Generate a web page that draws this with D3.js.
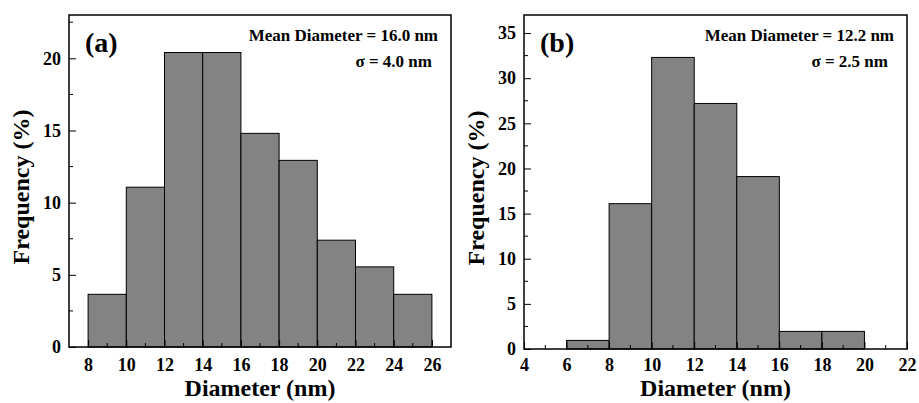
<!DOCTYPE html>
<html>
<head>
<meta charset="utf-8">
<script src="https://cdn.jsdelivr.net/npm/d3@7"></script>
<style>
  html, body { margin: 0; padding: 0; background: #fff; }
  svg { display: block; }
  svg text { font-family: "Times New Roman", Times, "Liberation Serif", serif; font-weight: bold; fill: #000; }
</style>
</head>
<body>
<svg id="chart" width="919" height="403"></svg>
<script>
// Panel (a)
const edgesA = [8, 10, 12, 14, 16, 18, 20, 22, 24, 26];
const freqA = [3.65, 11.07, 20.4, 20.4, 14.8, 12.93, 7.4, 5.55, 3.65];
const xTicksA = [8, 10, 12, 14, 16, 18, 20, 22, 24, 26];
const yTicksA = [0, 5, 10, 15, 20];
const statsA = ["Mean Diameter = 16.0 nm", "σ = 4.0 nm"];

// Panel (b)
const edgesB = [6, 8, 10, 12, 14, 16, 18, 20];
const freqB = [0.95, 16.1, 32.3, 27.2, 19.1, 1.95, 1.95];
const xTicksB = [4, 6, 8, 10, 12, 14, 16, 18, 20, 22];
const yTicksB = [0, 5, 10, 15, 20, 25, 30, 35];
const statsB = ["Mean Diameter = 12.2 nm", "σ = 2.5 nm"];

const svg = d3.select("#chart");

function drawPanel(opt) {
    const g = svg.append("g");
    const x = d3.scaleLinear().domain(opt.xDomain).range([opt.left, opt.right]);
    const y = d3.scaleLinear().domain(opt.yDomain).range([opt.bottom, opt.top]);

    // bars
    const bins = opt.freq.map((v, i) => ({ x0: opt.edges[i], x1: opt.edges[i + 1], v }));
    g.selectAll("rect.bar")
        .data(bins)
        .join("rect")
        .attr("class", "bar")
        .attr("x", d => x(d.x0))
        .attr("width", d => x(d.x1) - x(d.x0))
        .attr("y", d => y(d.v))
        .attr("height", d => y(0) - y(d.v))
        .attr("fill", "#838383")
        .attr("stroke", "#000")
        .attr("stroke-width", 1);

    // minor ticks
    const xMinor = opt.xTicks.slice(0, -1).map(t => t + 1).filter(t => t < opt.xDomain[1]);
    const yMinor = opt.yTicks.map(t => t + 2.5).filter(t => t < opt.yDomain[1]);

    // x axis (ticks pointing in), labels kept on the same baseline for both panels
    const xAxis = d3.axisBottom(x).tickValues(opt.xTicks).tickSizeInner(-7).tickSizeOuter(0)
        .tickPadding(11 - (opt.bottom - 347));
    const gx = g.append("g").attr("transform", `translate(0,${opt.bottom})`).call(xAxis);
    gx.attr("font-family", null).attr("font-size", null);
    gx.selectAll(".tick text").style("font-size", "18px");
    gx.select(".domain").remove();
    gx.selectAll("line.minor")
        .data(xMinor)
        .join("line")
        .attr("class", "minor")
        .attr("x1", d => x(d)).attr("x2", d => x(d))
        .attr("y1", 0).attr("y2", -4)
        .attr("stroke", "#000");

    // y axis
    const yAxis = d3.axisLeft(y).tickValues(opt.yTicks).tickSizeInner(-7).tickSizeOuter(0).tickPadding(8);
    const gy = g.append("g").attr("transform", `translate(${opt.left},0)`).call(yAxis);
    gy.attr("font-family", null).attr("font-size", null);
    gy.selectAll(".tick text").style("font-size", "18px");
    gy.select(".domain").remove();
    gy.selectAll("line.minor")
        .data(yMinor)
        .join("line")
        .attr("class", "minor")
        .attr("x1", 0).attr("x2", 4)
        .attr("y1", d => y(d)).attr("y2", d => y(d))
        .attr("stroke", "#000");

    // frame
    g.append("rect")
        .attr("x", opt.left).attr("y", opt.top)
        .attr("width", opt.right - opt.left).attr("height", opt.bottom - opt.top)
        .attr("fill", "none").attr("stroke", "#000").attr("stroke-width", 1.5);

    // panel letter
    g.append("text")
        .attr("x", opt.left + 16).attr("y", opt.top + 37)
        .style("font-size", "28px")
        .text(opt.letter);

    // stats
    g.append("text")
        .attr("x", opt.right - 13).attr("y", opt.top + 26)
        .attr("text-anchor", "end").style("font-size", "17px")
        .text(opt.stats[0]);
    g.append("text")
        .attr("x", opt.right - 19).attr("y", opt.top + 52)
        .attr("text-anchor", "end").style("font-size", "17px")
        .text(opt.stats[1]);

    // axis titles
    g.append("text")
        .attr("x", (opt.left + opt.right) / 2).attr("y", 396)
        .attr("text-anchor", "middle").style("font-size", "24px")
        .text("Diameter (nm)");
    g.append("text")
        .attr("transform", `translate(${opt.left - 40},${(opt.top + opt.bottom) / 2 + 6}) rotate(-90)`)
        .attr("text-anchor", "middle").style("font-size", "24px")
        .text("Frequency (%)");
}

drawPanel({
    left: 69, right: 451, top: 15, bottom: 347,
    xDomain: [7, 27], yDomain: [0, 23],
    edges: edgesA, freq: freqA, xTicks: xTicksA, yTicks: yTicksA,
    letter: "(a)", stats: statsA
});

drawPanel({
    left: 524, right: 907, top: 15, bottom: 349,
    xDomain: [4, 22], yDomain: [0, 37],
    edges: edgesB, freq: freqB, xTicks: xTicksB, yTicks: yTicksB,
    letter: "(b)", stats: statsB
});
</script>
</body>
</html>
